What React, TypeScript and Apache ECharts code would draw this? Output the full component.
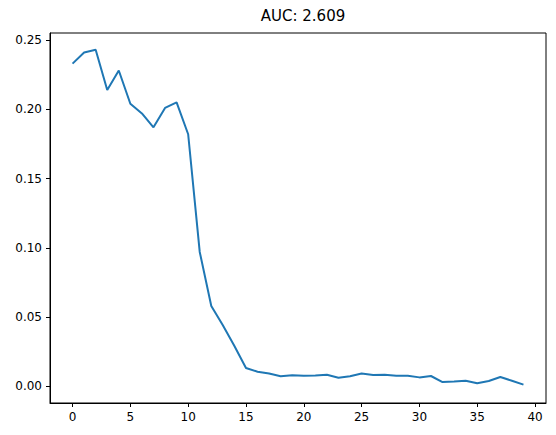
import { useEffect, useRef } from "react";
import * as echarts from "echarts";

const steps = Array.from({ length: 40 }, (_, i) => i);
const values = [
  0.233, 0.241, 0.243, 0.214, 0.228, 0.204, 0.197, 0.187, 0.201, 0.205,
  0.182, 0.097, 0.058, 0.044, 0.029, 0.0132, 0.0105, 0.0092, 0.0072, 0.008,
  0.0075, 0.0078, 0.0083, 0.0062, 0.0072, 0.0092, 0.0082, 0.0083, 0.0076, 0.0076,
  0.0064, 0.0074, 0.003, 0.0034, 0.004, 0.0022, 0.0038, 0.0067, 0.004, 0.0012,
];
const xTicks = [0, 5, 10, 15, 20, 25, 30, 35, 40];
const yTicks = [0, 0.05, 0.1, 0.15, 0.2, 0.25];
const title = "AUC: 2.609";

const font = "DejaVu Sans";

export default function App() {
  const ref = useRef<HTMLDivElement>(null);

  useEffect(() => {
    if (!ref.current) return;
    const chart = echarts.init(ref.current, undefined, { renderer: "svg" });
    const axisCommon = {
      axisLine: { show: true, onZero: false, lineStyle: { color: "#000", width: 1 } },
      axisTick: { show: true, length: 4, lineStyle: { color: "#000" } },
      splitLine: { show: false },
    };
    chart.setOption({
      animation: false,
      title: {
        text: title,
        left: 298,
        textAlign: "center",
        top: 3,
        textStyle: { fontFamily: font, fontSize: 15, fontWeight: "normal", color: "#000" },
      },
      grid: { left: 50, right: 10, top: 33, bottom: 32, show: true, borderColor: "#000", borderWidth: 1 },
      xAxis: {
        type: "value",
        min: -1.95,
        max: 40.95,
        ...axisCommon,
        axisTick: { ...axisCommon.axisTick, customValues: xTicks },
        axisLabel: { customValues: xTicks, fontFamily: font, fontSize: 12, color: "#000", margin: 8 },
      },
      yAxis: {
        type: "value",
        min: -0.0121,
        max: 0.2551,
        ...axisCommon,
        axisTick: { ...axisCommon.axisTick, customValues: yTicks },
        axisLabel: {
          customValues: yTicks,
          fontFamily: font,
          fontSize: 12,
          color: "#000",
          margin: 8,
          formatter: (v: number) => v.toFixed(2),
        },
      },
      series: [
        {
          type: "line",
          data: steps.map((s, i) => [s, values[i]]),
          showSymbol: false,
          lineStyle: { color: "#1f77b4", width: 2 },
        },
      ],
    });
    return () => chart.dispose();
  }, []);

  return <div ref={ref} style={{ position: "absolute", left: 0, top: 0, width: 556, height: 435 }} />;
}
